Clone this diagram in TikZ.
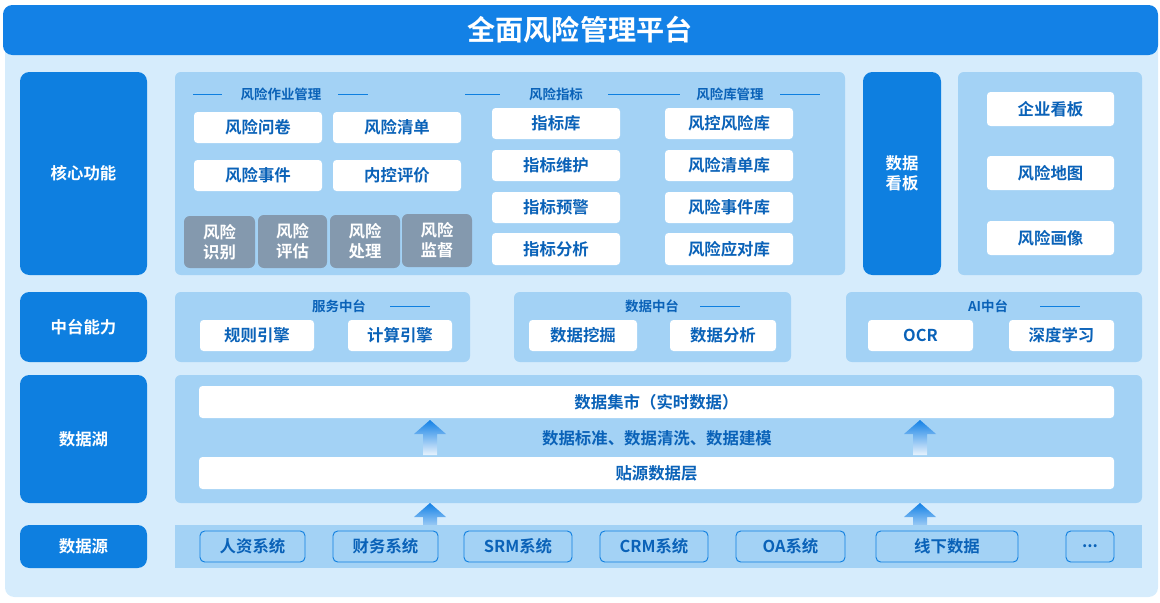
\documentclass[tikz,border=0pt]{standalone}
\usepackage{fontspec}
\setmainfont{Noto Sans CJK SC}[BoldFont={Noto Sans CJK SC Bold}]
\begin{document}
\definecolor{bg}{HTML}{D6ECFC}
\definecolor{pnl}{HTML}{A3D2F5}
\definecolor{hdr}{HTML}{1381E6}
\definecolor{lbl}{HTML}{0E7FE0}
\definecolor{tx}{HTML}{0A62B8}
\definecolor{gry}{HTML}{8499AE}
\begin{tikzpicture}[x=0.03cm,y=-0.03cm,
 pn/.style={fill=pnl,rounded corners=5pt},
 wb/.style={fill=white,rounded corners=3pt,font=\bfseries\fontsize{14}{15}\selectfont,text=tx},
 gb/.style={fill=gry,rounded corners=5pt,font=\bfseries\fontsize{14}{17}\selectfont,text=white,align=center},
 lb/.style={fill=lbl,rounded corners=8pt,font=\bfseries\fontsize{14}{17}\selectfont,text=white,align=center},
 ob/.style={draw=lbl,line width=0.8pt,rounded corners=4pt,font=\bfseries\fontsize{14}{15}\selectfont,text=tx},
 tt/.style={font=\bfseries\fontsize{11.5}{12}\selectfont,text=tx},
 ln/.style={draw=lbl,line width=0.8pt}]
\useasboundingbox (0,0) rectangle (1160,602);
\fill[bg,rounded corners=8pt] (5,30) rectangle (1158,597);
\fill[hdr,rounded corners=8pt] (3,5) rectangle (1158,55);
\node[text=white,font=\bfseries\fontsize{24}{26}\selectfont] (title) at (580,30) {全面风险管理平台};
\newcommand{\bx}[6]{\node[#1,minimum width={(#4-#2)*0.03cm},minimum height={(#5-#3)*0.03cm},inner sep=0pt] at ({(#2+#4)/2},{(#3+#5)/2}) {#6};}
% left labels
\bx{lb}{20}{72}{147}{275}{核心功能}
\bx{lb}{20}{292}{147}{362}{中台能力}
\bx{lb}{20}{375}{147}{503}{数据湖}
\bx{lb}{20}{525}{147}{568}{数据源}
% core
\fill[pn] (175,72) rectangle (845,275);
\node[tt] (t1) at (281,94) {风险作业管理};
\draw[ln] (193,94)--(222,94) (338,94)--(368,94);
\node[tt] (t2) at (556,94) {风险指标};
\draw[ln] (465,94)--(500,94) (608,94)--(650,94);
\node[tt] (t3) at (730,94) {风险库管理};
\draw[ln] (650,94)--(680,94) (780,94)--(820,94);
\bx{wb}{194}{112}{322}{143}{风险问卷}
\bx{wb}{333}{112}{461}{143}{风险清单}
\bx{wb}{194}{160}{322}{191}{风险事件}
\bx{wb}{333}{160}{461}{191}{内控评价}
\bx{gb}{184}{216}{255}{268}{风险\\识别}
\bx{gb}{258}{215}{327}{268}{风险\\评估}
\bx{gb}{330}{215}{400}{268}{风险\\处理}
\bx{gb}{402}{214}{472}{267}{风险\\监督}
\bx{wb}{492}{108}{620}{139}{指标库}
\bx{wb}{492}{150}{620}{181}{指标维护}
\bx{wb}{492}{192}{620}{223}{指标预警}
\bx{wb}{492}{233}{620}{265}{指标分析}
\bx{wb}{665}{108}{793}{139}{风控风险库}
\bx{wb}{665}{150}{793}{181}{风险清单库}
\bx{wb}{665}{192}{793}{223}{风险事件库}
\bx{wb}{665}{233}{793}{265}{风险应对库}
\bx{lb}{863}{72}{941}{275}{数据\\看板}
\fill[pn] (958,72) rectangle (1142,275);
\bx{wb}{987}{92}{1114}{126}{企业看板}
\bx{wb}{987}{156}{1114}{190}{风险地图}
\bx{wb}{987}{221}{1114}{255}{风险画像}
% middle
\fill[pn] (175,292) rectangle (470,362);
\fill[pn] (514,292) rectangle (791,362);
\fill[pn] (846,292) rectangle (1142,362);
\node[tt] (m1) at (339,306) {服务中台};
\draw[ln] (390,306)--(430,306);
\node[tt] (m2) at (652,306) {数据中台};
\draw[ln] (700,306)--(740,306);
\node[tt] (m3) at (988,306) {AI中台};
\draw[ln] (1040,306)--(1080,306);
\bx{wb}{200}{320}{314}{351}{规则引擎}
\bx{wb}{348}{320}{452}{351}{计算引擎}
\bx{wb}{529}{320}{637}{351}{数据挖掘}
\bx{wb}{670}{320}{776}{351}{数据分析}
\bx{wb}{868}{320}{973}{351}{OCR}
\bx{wb}{1009}{320}{1114}{351}{深度学习}
% lake
\fill[pn] (175,375) rectangle (1142,503);
\bx{wb}{199}{386}{1114}{418}{数据集市（实时数据）}
\node[text=tx,font=\bfseries\fontsize{14}{15}\selectfont] (std) at (657,438) {数据标准、数据清洗、数据建模};
\bx{wb}{199}{457}{1114}{489}{贴源数据层}
\foreach \ax/\ay in {430/420,920/420,430/503,920/503}{
 \shade[top color=hdr,bottom color=hdr!10] (\ax-7,\ay+35)--(\ax-7,\ay+14)--(\ax-16,\ay+14)--(\ax,\ay)--(\ax+16,\ay+14)--(\ax+7,\ay+14)--(\ax+7,\ay+35)--cycle;}
% sources
\fill[pnl] (175,525) rectangle (1142,568);
\bx{ob}{200}{531}{305}{562}{人资系统}
\bx{ob}{333}{531}{438}{562}{财务系统}
\bx{ob}{464}{531}{572}{562}{SRM系统}
\bx{ob}{600}{531}{708}{562}{CRM系统}
\bx{ob}{736}{531}{845}{562}{OA系统}
\bx{ob}{876}{531}{1018}{562}{线下数据}
\bx{ob}{1066}{531}{1114}{562}{...}
\end{tikzpicture}
\end{document}
